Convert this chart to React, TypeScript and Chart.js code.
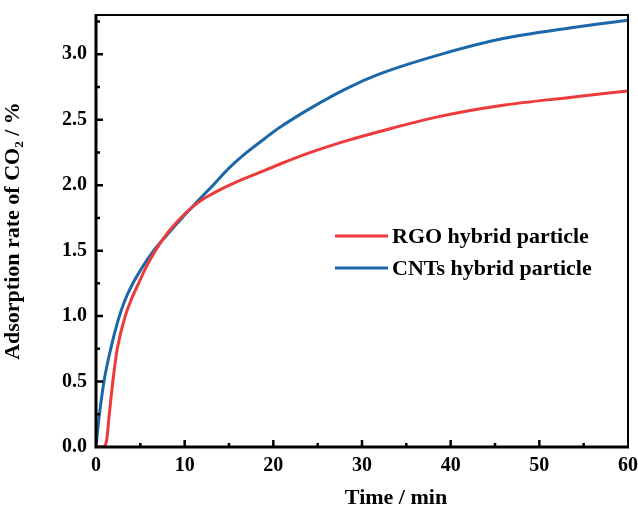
import React, { useEffect, useRef } from "react";
import { Chart, registerables } from "chart.js";

Chart.register(...registerables);

// Time (min) and adsorption rate (%) for the RGO hybrid particle
const rgoTime = [0, 0.6, 1.0, 1.2, 1.5, 1.9, 2.4, 3.3, 4, 4.8, 5.7, 6.7, 8, 9, 10, 11, 12, 13, 14.4, 16, 18.2, 20.7, 24.2, 28.3, 32, 38.4, 45.9, 53.4, 60];
const rgoRate = [0, 0, 0.01, 0.05, 0.25, 0.5, 0.75, 1.0, 1.13, 1.25, 1.38, 1.5, 1.63, 1.71, 1.78, 1.84, 1.89, 1.93, 1.98, 2.03, 2.09, 2.16, 2.25, 2.34, 2.41, 2.52, 2.61, 2.67, 2.72];

// Time (min) and adsorption rate (%) for the CNTs hybrid particle
const cntTime = [0, 0.3, 0.9, 1.66, 2.5, 3.2, 4, 5.2, 6.5, 8, 9.7, 11.5, 13.2, 15, 17, 19, 20.7, 24.5, 28.3, 32, 38.4, 45.9, 53.4, 60];
const cntRate = [0, 0.2, 0.5, 0.75, 0.97, 1.11, 1.23, 1.37, 1.5, 1.62, 1.75, 1.88, 2.0, 2.13, 2.25, 2.355, 2.44, 2.6, 2.74, 2.85, 2.99, 3.12, 3.2, 3.26];

const seriesLabels = ["RGO hybrid particle", "CNTs hybrid particle"];
const xTitle = "Time / min";
const yTitle = "Adsorption rate of CO₂ / %";
const xTicks = [0, 10, 20, 30, 40, 50, 60];
const xMinorTicks = [5, 15, 25, 35, 45, 55];
const yTicks = [0, 0.5, 1.0, 1.5, 2.0, 2.5, 3.0];
const yMinorTicks = [0.25, 0.75, 1.25, 1.75, 2.25, 2.75, 3.25];

const RED = "#EE3A3A";
const BLUE = "#1A67AA";
const FONT = "'Liberation Serif', 'Times New Roman', serif";

const framePlugin = {
  id: "frameAndLegend",
  afterDraw(chart: any) {
    const { ctx, chartArea } = chart;
    const xs = chart.scales.x;
    const ys = chart.scales.y;
    const { left, right, top, bottom } = chartArea;
    ctx.save();
    ctx.strokeStyle = "#000";
    ctx.lineWidth = 2;
    ctx.beginPath();
    ctx.moveTo(left, top);
    ctx.lineTo(right, top);
    ctx.lineTo(right, bottom);
    ctx.stroke();
    ctx.lineWidth = 3;
    ctx.beginPath();
    ctx.moveTo(left, top - 1);
    ctx.lineTo(left, bottom);
    ctx.lineTo(right + 1, bottom);
    ctx.stroke();
    ctx.lineWidth = 2.5;
    ctx.beginPath();
    xTicks.forEach((v) => {
      if (v === 0 || v === 60) return;
      const px = xs.getPixelForValue(v);
      ctx.moveTo(px, bottom);
      ctx.lineTo(px, bottom - 7);
    });
    xMinorTicks.forEach((v) => {
      const px = xs.getPixelForValue(v);
      ctx.moveTo(px, bottom);
      ctx.lineTo(px, bottom - 4);
    });
    yTicks.forEach((v) => {
      if (v === 0) return;
      const py = ys.getPixelForValue(v);
      ctx.moveTo(left, py);
      ctx.lineTo(left + 7, py);
    });
    yMinorTicks.forEach((v) => {
      const py = ys.getPixelForValue(v);
      ctx.moveTo(left, py);
      ctx.lineTo(left + 4, py);
    });
    ctx.stroke();

    // x-axis title (offset right of centre, as in the original)
    ctx.fillStyle = "#000";
    ctx.font = `bold 22px ${FONT}`;
    ctx.textAlign = "center";
    ctx.textBaseline = "middle";
    ctx.fillText(xTitle, left + 300, bottom + 51);

    // legend
    const lx = left + 239;
    const ly = top + 221;
    const colors = [RED, BLUE];
    ctx.textAlign = "left";
    seriesLabels.forEach((lab, i) => {
      const y = ly + i * 32;
      ctx.strokeStyle = colors[i];
      ctx.lineWidth = 3;
      ctx.beginPath();
      ctx.moveTo(lx, y);
      ctx.lineTo(lx + 53, y);
      ctx.stroke();
      ctx.fillStyle = "#000";
      ctx.fillText(lab, lx + 57, y + 1);
    });
    ctx.restore();
  },
};

export default function App() {
  const canvasRef = useRef<HTMLCanvasElement | null>(null);

  useEffect(() => {
    if (!canvasRef.current) return;
    const chart = new Chart(canvasRef.current, {
      type: "line",
      data: {
        datasets: [
          {
            label: seriesLabels[0],
            data: rgoTime.map((t, i) => ({ x: t, y: rgoRate[i] })),
            borderColor: RED,
            borderWidth: 3,
            pointRadius: 0,
            cubicInterpolationMode: "monotone",
          },
          {
            label: seriesLabels[1],
            data: cntTime.map((t, i) => ({ x: t, y: cntRate[i] })),
            borderColor: BLUE,
            borderWidth: 3,
            pointRadius: 0,
            cubicInterpolationMode: "monotone",
          },
        ],
      },
      options: {
        animation: false,
        responsive: true,
        maintainAspectRatio: false,
        layout: { padding: { left: 0, right: 10, top: 15, bottom: 0 } },
        plugins: { legend: { display: false }, tooltip: { enabled: false } },
        scales: {
          x: {
            type: "linear",
            min: 0,
            max: 60,
            grid: { display: false, drawTicks: false },
            border: { display: false },
            afterBuildTicks: (s: any) => {
              s.ticks = xTicks.map((v) => ({ value: v }));
            },
            afterFit: (s: any) => {
              s.height = 63;
              s.paddingLeft = 0;
              s.paddingRight = 0;
            },
            ticks: {
              color: "#000",
              padding: 7,
              maxRotation: 0,
              font: { family: FONT, size: 20, weight: "bold" },
            },
            title: { display: false },
          },
          y: {
            type: "linear",
            min: 0,
            max: 3.3,
            grid: { display: false, drawTicks: false },
            border: { display: false },
            afterBuildTicks: (s: any) => {
              s.ticks = yTicks.map((v) => ({ value: v }));
            },
            afterFit: (s: any) => {
              s.width = 96;
              s.paddingTop = 0;
              s.paddingBottom = 0;
            },
            ticks: {
              color: "#000",
              padding: 9,
              font: { family: FONT, size: 20, weight: "bold" },
              callback: (v: any) => Number(v).toFixed(1),
            },
            title: {
              display: true,
              text: yTitle,
              color: "#000",
              padding: { top: 0, bottom: 15 },
              font: { family: FONT, size: 22, weight: "bold" },
            },
          },
        },
      },
      plugins: [framePlugin],
    } as any);
    return () => chart.destroy();
  }, []);

  return (
    <div style={{ position: "fixed", left: 0, top: 0, width: 638, height: 510, background: "#fff" }}>
      <canvas ref={canvasRef} />
    </div>
  );
}
